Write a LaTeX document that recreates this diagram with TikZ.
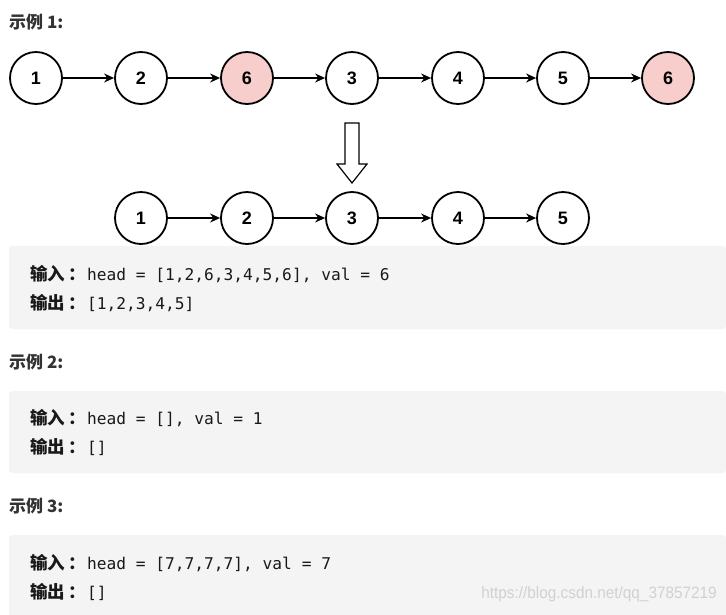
\documentclass[tikz,border=0pt]{standalone}
\usepackage{fontspec}
\setmainfont{Liberation Sans}
\newfontfamily\cjk{Noto Sans CJK SC}
\newfontfamily\mono{DejaVu Sans Mono}
\usetikzlibrary{arrows.meta}
\definecolor{boxgray}{HTML}{F4F4F4}
\definecolor{pinkfill}{HTML}{F8CECC}
\definecolor{headc}{HTML}{333333}
\tikzset{
  lnode/.style={circle, draw=black, line width=1.8pt, minimum size=52pt, inner sep=0pt, fill=white, font=\fontsize{18}{18}\selectfont\bfseries},
  rmnode/.style={lnode, fill=pinkfill},
  link/.style={line width=1.4pt, -{Stealth[length=10pt,width=9pt]}},
  codebox/.style={fill=boxgray, draw=none, rounded corners=3pt},
  heading/.style={anchor=base west, inner sep=0pt, text=headc, font=\cjk\bfseries\fontsize{17}{17}\selectfont},
  codeline/.style={anchor=base west, inner sep=0pt, text=black!90},
}
\newcommand{\lbl}[1]{\makebox[57pt][l]{\cjk\bfseries\fontsize{17.5}{17}\selectfont #1\hspace{3pt}：}}
\newcommand{\cd}[1]{{\mono\fontsize{16.2}{16}\selectfont #1}}
\begin{document}
\begin{tikzpicture}[x=1pt,y=-1pt]
\useasboundingbox (0,0) rectangle (726,614);
\fill[white] (0,0) rectangle (726,614);
% headings
\node[heading] (h1) at (9,28) {示例 1:};
\node[heading] (h2) at (9,368) {示例 2:};
\node[heading] (h3) at (9,512) {示例 3:};
% top list
\node[lnode] (a1) at (36,78) {1};
\node[lnode] (a2) at (141,78) {2};
\node[rmnode] (a3) at (247,78) {6};
\node[lnode] (a4) at (352,78) {3};
\node[lnode] (a5) at (458,78) {4};
\node[lnode] (a6) at (563,78) {5};
\node[rmnode] (a7) at (668,78) {6};
\foreach \i/\j in {a1/a2,a2/a3,a3/a4,a4/a5,a5/a6,a6/a7} \draw[link] (\i) -- (\j);
% hollow arrow
\draw[line width=1.2pt, fill=white] (345,123) -- (359,123) -- (359,164) -- (367,164) -- (352,183) -- (337,164) -- (345,164) -- cycle;
% bottom list
\node[lnode] (b1) at (141,218) {1};
\node[lnode] (b2) at (247,218) {2};
\node[lnode] (b3) at (352,218) {3};
\node[lnode] (b4) at (458,218) {4};
\node[lnode] (b5) at (563,218) {5};
\foreach \i/\j in {b1/b2,b2/b3,b3/b4,b4/b5} \draw[link] (\i) -- (\j);
% code boxes
\fill[codebox] (9,246) rectangle (726,329);
\fill[codebox] (9,391) rectangle (726,473);
\fill[codebox] (9,535) rectangle (726,620);
\node[codeline] (c11) at (30,280) {\lbl{输入}\cd{head = [1,2,6,3,4,5,6], val = 6}};
\node[codeline] (c12) at (30,309) {\lbl{输出}\cd{[1,2,3,4,5]}};
\node[codeline] (c21) at (30,424) {\lbl{输入}\cd{head = [], val = 1}};
\node[codeline] (c22) at (30,453) {\lbl{输出}\cd{[]}};
\node[codeline] (c31) at (30,569) {\lbl{输入}\cd{head = [7,7,7,7], val = 7}};
\node[codeline] (c32) at (30,598) {\lbl{输出}\cd{[]}};
% watermark
\node[anchor=base east, inner sep=0pt, text=black!18, font=\fontsize{16.5}{16}\selectfont] (wm) at (717,598) {\scalebox{0.93}[1]{https://blog.csdn.net/qq\_37857219}};
\end{tikzpicture}
\end{document}
